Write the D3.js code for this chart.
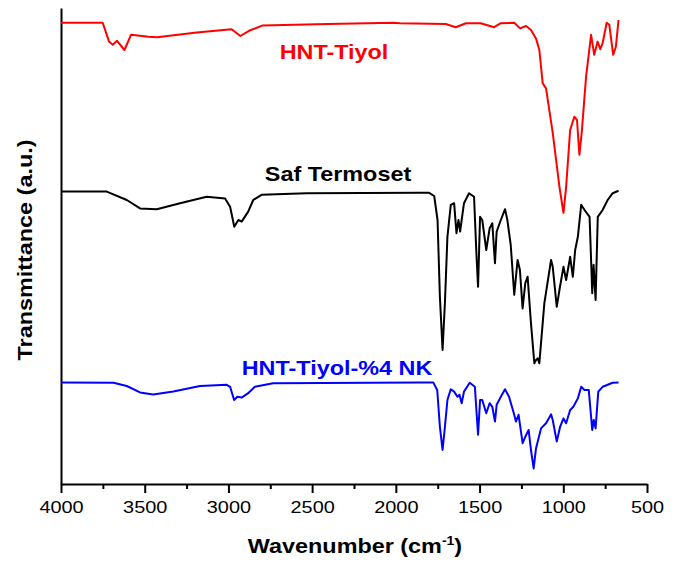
<!DOCTYPE html>
<html>
<head>
<meta charset="utf-8">
<script src="https://cdn.jsdelivr.net/npm/d3@7"></script>
<style>
  body { margin: 0; background: #fff; }
  text { font-family: "Liberation Sans", Arial, sans-serif; }
</style>
</head>
<body>
<div id="chart"></div>
<script>
var width = 685
var height = 563

// wavenumber (cm-1), transmittance (a.u., offset per curve)
var hntTiyol = [
  [4000,115.3],[3751,115.3],[3713,110.6],[3691,109.8],[3665,110.8],[3621,108.5],[3582,112.3],
  [3477,111.8],[3426,111.7],[3190,112.9],[2981,113.7],[2929,112.0],[2877,113.3],[2799,114.6],
  [2407,115.0],[2016,115.3],[1975,115.2],[1702,115.0],[1642,114.2],[1582,115.2],[1494,115.2],
  [1413,114.2],[1373,115.2],[1293,115.3],[1258,113.9],[1222,114.5],[1193,113.5],[1163,111.4],
  [1143,108.5],[1123,100.2],[1103,98.9],[1063,87.8],[1023,74.3],[999,67.8],[983,74.3],
  [959,88.5],[934,91.8],[918,91.0],[904,82.3],[890,87.8],[864,101.8],[834,112.3],[815,107.3],
  [795,110.6],[779,108.7],[765,110.2],[741,115.3],[725,114.8],[702,107.3],[686,109.3],[670,116.0]
]

var safTermoset = [
  [4000,73.1],[3727,73.1],[3607,71.0],[3528,68.9],[3428,68.7],[3289,70.2],[3130,71.8],
  [3020,71.4],[2990,69.3],[2965,64.3],[2941,66.0],[2921,65.6],[2882,68.1],[2852,71.0],
  [2802,72.3],[2533,72.7],[1855,72.8],[1801,72.8],[1771,72.0],[1751,66.0],[1737,46.8],
  [1721,33.5],[1707,45.3],[1692,61.8],[1672,69.8],[1652,70.2],[1638,62.7],[1626,66.0],
  [1616,63.1],[1607,66.0],[1593,70.2],[1563,72.7],[1533,71.8],[1519,57.7],[1509,49.3],
  [1497,66.8],[1484,66.0],[1460,58.5],[1440,63.9],[1424,65.2],[1408,55.2],[1398,63.1],
  [1373,66.0],[1348,68.7],[1334,66.0],[1314,59.8],[1293,47.3],[1273,56.0],[1259,53.5],
  [1243,43.9],[1227,50.2],[1213,51.8],[1193,40.2],[1173,30.2],[1163,31.0],[1153,31.4],
  [1143,30.2],[1113,45.2],[1073,56.0],[1063,54.3],[1039,44.3],[1023,48.5],[999,54.3],
  [983,51.0],[959,56.8],[943,51.8],[929,58.5],[913,61.8],[893,69.8],[873,68.5],[843,66.8],
  [827,47.7],[819,54.8],[807,46.0],[794,66.8],[765,68.5],[735,71.0],[705,72.7],[670,73.3]
]

var hntTiyolNK = [
  [4000,25.4],[3687,25.3],[3607,24.5],[3528,22.9],[3449,22.4],[3329,23.1],[3170,24.5],
  [3010,24.8],[2990,24.3],[2966,21.0],[2947,21.8],[2921,21.6],[2882,22.7],[2842,24.3],
  [2733,25.2],[1855,25.4],[1777,25.4],[1753,23.5],[1737,14.3],[1721,8.5],[1707,14.3],
  [1692,21.0],[1672,23.7],[1652,23.1],[1632,21.8],[1620,22.3],[1607,20.2],[1593,23.1],
  [1559,25.3],[1528,24.3],[1519,18.5],[1509,12.3],[1497,21.0],[1484,21.0],[1460,17.7],
  [1440,20.2],[1424,19.3],[1408,15.6],[1398,19.8],[1373,21.8],[1348,23.7],[1324,21.8],
  [1293,17.3],[1283,15.6],[1267,17.3],[1243,10.2],[1227,11.8],[1207,13.5],[1193,8.5],
  [1177,3.9],[1163,8.9],[1133,13.9],[1103,15.2],[1073,17.4],[1063,16.0],[1039,10.6],
  [1019,14.3],[999,16.4],[983,15.2],[959,18.5],[940,19.3],[913,21.4],[893,24.3],[873,23.5],
  [848,23.5],[827,13.5],[818,16.0],[807,13.9],[791,23.1],[765,24.3],[735,24.8],[705,25.3],[670,25.4]
]

var majorTicks = [4000, 3500, 3000, 2500, 2000, 1500, 1000, 500]
var minorTicks = [3750, 3250, 2750, 2250, 1750, 1250, 750]

var series = [
  {name: 'HNT-Tiyol', data: hntTiyol, color: '#ff0000', lx: 334, ly: 59},
  {name: 'Saf Termoset', data: safTermoset, color: '#000000', lx: 338, ly: 181},
  {name: 'HNT-Tiyol-%4 NK', data: hntTiyolNK, color: '#0000ff', lx: 337, ly: 375}
]

var margin = {left: 61, right: 38, top: 8, bottom: 79}
var stretch = 1.17

var svg = d3.select('#chart').append('svg')
  .attr('width', width)
  .attr('height', height)

var x = d3.scaleLinear().domain([4000, 500]).range([margin.left, width - margin.right])
var y = d3.scaleLinear().domain([0, 119]).range([height - margin.bottom, margin.top])

// minor ticks first, then major ticks with labels
svg.append('g')
  .attr('transform', 'translate(0,' + (height - margin.bottom) + ')')
  .call(d3.axisBottom(x).tickValues(minorTicks).tickSize(5).tickSizeOuter(0).tickFormat(''))
  .call(function(g){ g.select('.domain').remove() })
  .selectAll('line').attr('stroke-width', 2)

var xAxis = svg.append('g')
  .attr('transform', 'translate(0,' + (height - margin.bottom) + ')')
  .call(d3.axisBottom(x).tickValues(majorTicks).tickSize(9).tickSizeOuter(0).tickFormat(d3.format('d')))
xAxis.select('.domain').attr('stroke-width', 2)
xAxis.selectAll('line').attr('stroke-width', 2)
xAxis.selectAll('text')
  .attr('y', 0)
  .attr('dy', 0)
  .attr('transform', 'translate(0,29) scale(' + stretch + ',1)')
  .style('font-size', '17px')
  .style('font-family', '"Liberation Sans", Arial, sans-serif')
  .attr('fill', '#000')

var yAxis = svg.append('g')
  .attr('transform', 'translate(' + margin.left + ',0)')
  .call(d3.axisLeft(y).tickValues([]).tickSizeOuter(0))
yAxis.select('.domain').attr('stroke-width', 2)

var line = d3.line()
  .x(function(d){ return x(d[0]) })
  .y(function(d){ return y(d[1]) })

svg.selectAll('.spectrum').data(series).enter().append('path')
  .attr('class', 'spectrum')
  .attr('d', function(s){ return line(s.data) })
  .attr('fill', 'none')
  .attr('stroke', function(s){ return s.color })
  .attr('stroke-width', 2)
  .attr('stroke-linejoin', 'round')

svg.selectAll('.label').data(series).enter().append('text')
  .attr('class', 'label')
  .attr('transform', function(s){ return 'translate(' + s.lx + ',' + s.ly + ') scale(' + stretch + ',1)' })
  .attr('text-anchor', 'middle')
  .attr('font-size', 20)
  .attr('font-weight', 'bold')
  .attr('fill', function(s){ return s.color })
  .text(function(s){ return s.name })

// axis titles
var xt = svg.append('text')
  .attr('transform', 'translate(355,553) scale(' + stretch + ',1)')
  .attr('text-anchor', 'middle')
  .attr('font-size', 20)
  .attr('font-weight', 'bold')
xt.append('tspan').text('Wavenumber (cm')
xt.append('tspan').attr('font-size', 12).attr('dy', -8).text('-1')
xt.append('tspan').attr('dy', 8).text(')')

svg.append('text')
  .attr('transform', 'translate(32,250) rotate(-90) scale(' + stretch + ',1)')
  .attr('text-anchor', 'middle')
  .attr('font-size', 20)
  .attr('font-weight', 'bold')
  .text('Transmittance (a.u.)')
</script>
</body>
</html>
